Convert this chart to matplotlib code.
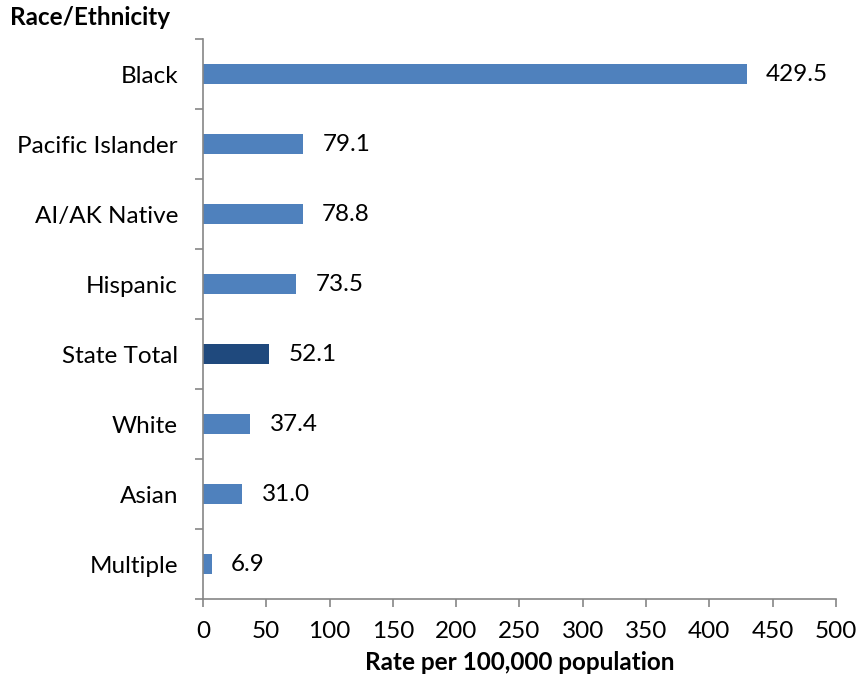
import numpy as np
from matplotlib import pyplot as plt

categories = ["Black", "Pacific Islander", "AI/AK Native", "Hispanic",
              "State Total", "White", "Asian", "Multiple"]
rates = [429.5, 79.1, 78.8, 73.5, 52.1, 37.4, 31.0, 6.9]
highlight = "State Total"
x_ticks = list(range(0, 501, 50))

plt.rcParams["font.family"] = ["Lato", "DejaVu Sans"]
plt.rcParams["font.size"] = 17.5

fig = plt.figure(figsize=(8.6, 6.85), dpi=100)
ax = fig.add_axes([0.236, 0.1255, 0.736, 0.8175])

n = len(categories)
y = np.arange(n)[::-1]
colors = ["#1F497D" if c == highlight else "#4F81BD" for c in categories]
ax.barh(y, rates, height=0.29, color=colors)

for yi, v in zip(y, rates):
    ax.annotate(f"{v:.1f}", (v, yi), xytext=(14, 0), textcoords="offset points",
                ha="left", va="center")

ax.set_xlim(0, 500)
ax.set_ylim(-0.5, n - 0.5)
ax.set_xticks(x_ticks)
ax.set_yticks(y)
ax.set_yticklabels(categories)
ax.set_yticks(np.arange(n + 1) - 0.5, minor=True)
ax.tick_params(axis="y", which="major", length=0, pad=18)
ax.tick_params(axis="y", which="minor", length=6, color="#868686", width=1.2)
ax.tick_params(axis="x", length=6, color="#868686", width=1.2, pad=10)

for s in ["top", "right"]:
    ax.spines[s].set_visible(False)
for s in ["left", "bottom"]:
    ax.spines[s].set_color("#868686")
    ax.spines[s].set_linewidth(1.2)

ax.set_xlabel("Rate per 100,000 population", fontweight="bold", labelpad=6)
fig.text(0.012, 0.974, "Race/Ethnicity", fontweight="bold", ha="left", va="center")

fig.savefig("out.png", dpi=100)
